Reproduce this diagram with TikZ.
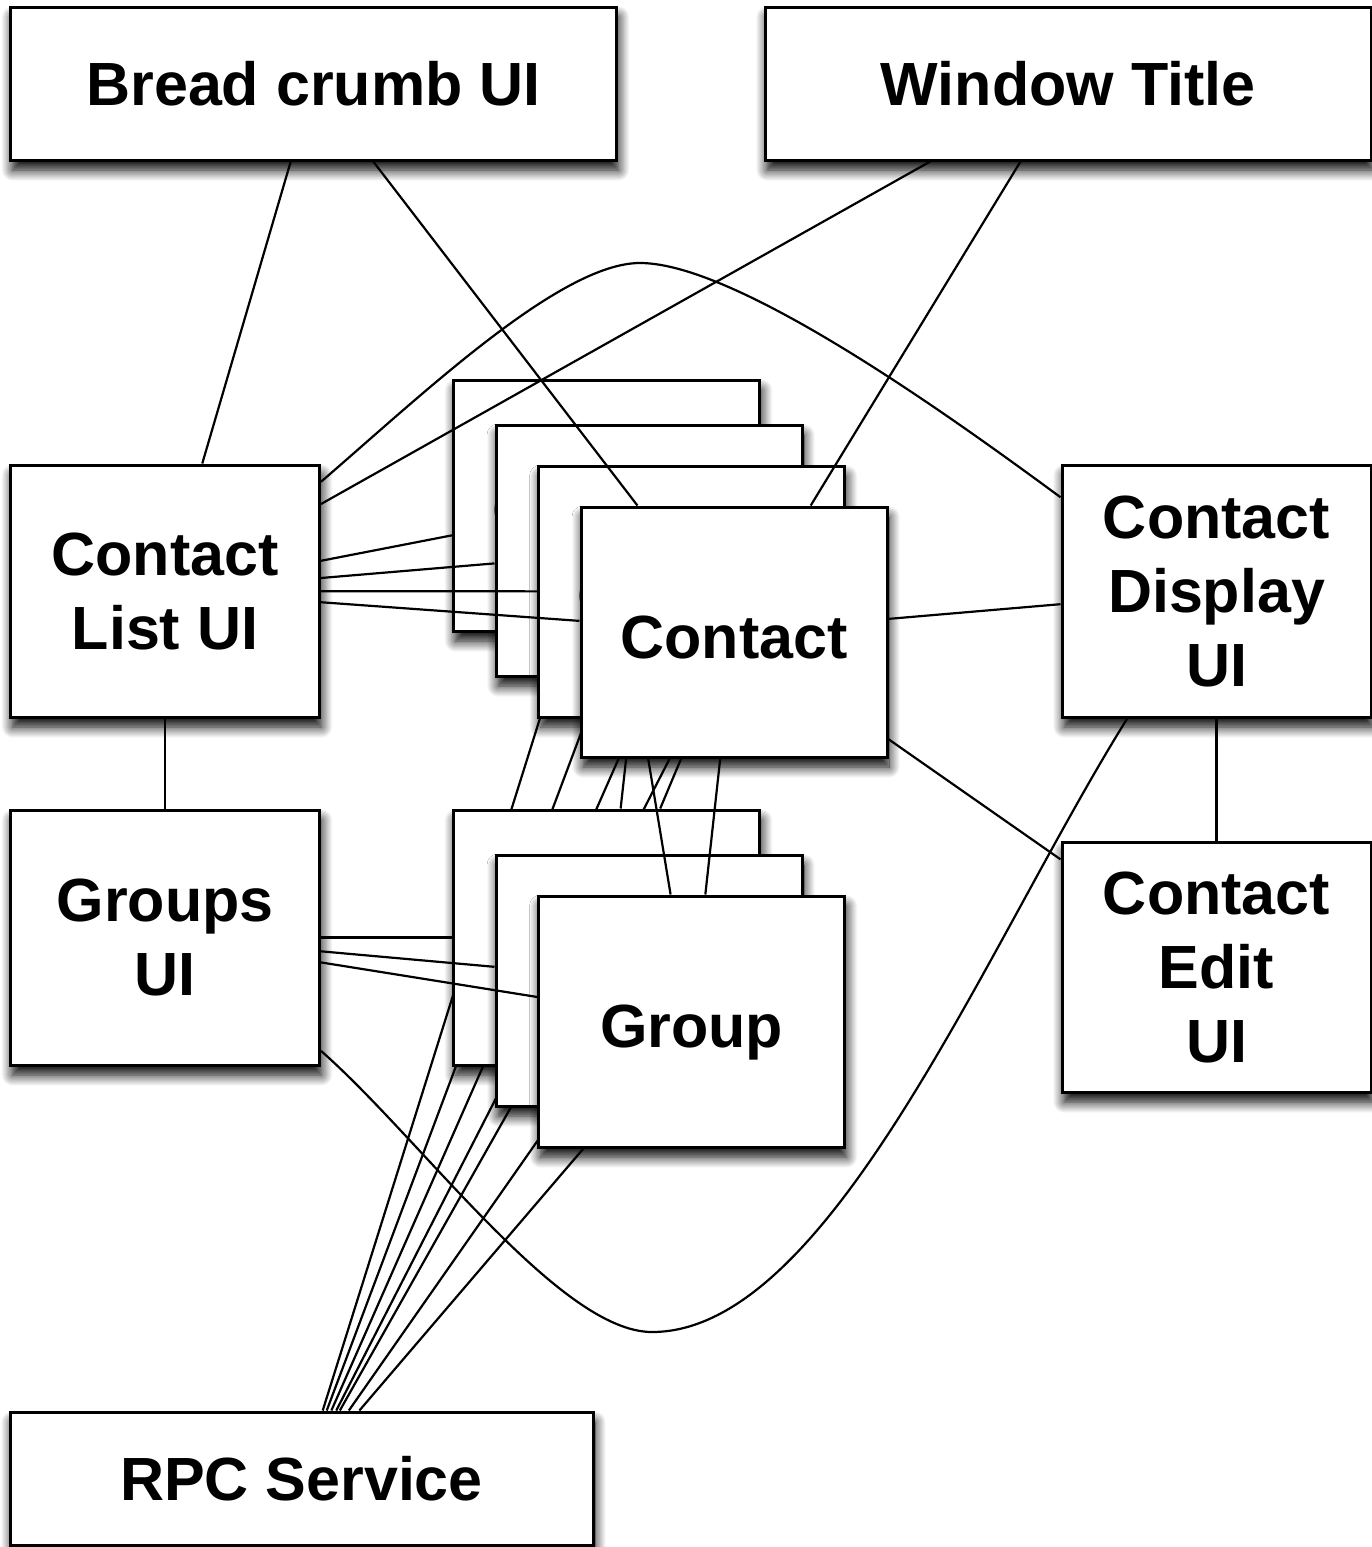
\documentclass[tikz,border=0pt]{standalone}
\usepackage{fontspec}
\setmainfont{Liberation Sans}
\usetikzlibrary{shadows.blur}

\pgfdeclarelayer{wires}
\pgfsetlayers{wires,main}

\tikzset{
  box/.style={draw=black, line width=3pt, fill=white, inner sep=0pt,
    align=center, font=\bfseries\fontsize{61}{74}\selectfont,
    blur shadow={shadow xshift=2pt, shadow yshift=-10pt,
      shadow blur radius=11pt, shadow blur steps=12, shadow opacity=100}},
  wide/.style={box, minimum width=606pt, minimum height=153pt},
  uibox/.style={box, minimum width=309pt, minimum height=252pt},
  card/.style={box, minimum width=306pt, minimum height=251pt,
    text height=52pt, text depth=0pt},
  link/.style={draw=black, line width=2.2pt},
}

\begin{document}
\begin{tikzpicture}[x=1pt, y=-1pt]
\useasboundingbox (0,0) rectangle (1372,1547);

% top row
\node[wide] (bc) at (313.5,83.5) {Bread crumb UI};
\node[wide] (wt) at (1068,83.5) {Window Title};

% left column
\node[uibox] (clui) at (165,591) {Contact\\List UI};
\node[uibox, minimum height=255pt] (gui) at (165,937.5) {Groups\\UI};
\node[box, minimum width=583pt, minimum height=133pt] (rpc) at (301.5,1478.5) {RPC Service};

% right column
\node[uibox] (cdui) at (1216.5,591) {Contact\\Display\\UI};
\node[uibox, minimum height=250pt] (ceui) at (1216.5,967) {Contact\\Edit\\UI};

% stack of groups
\node[card, minimum height=255pt] (g1) at (606.5,937.5) {Group};
\node[card] (g2) at (649,980.5) {Group};
\node[card] (g3) at (691.5,1021.5) {Group};

% stack of contacts (back cards first)
\node[card] (c1) at (606.5,505.5) {Contact};
\node[card] (c2) at (649,550.5) {Contact};
\draw[link] (c1) -- (g3);
\draw[link] (c2) -- (g1);
\node[card] (c3) at (691.5,591.5) {Contact};
\node[card, minimum height=250pt] (c4) at (734,632) {Contact};

% plain links
\draw[link] (bc) -- (clui);
\draw[link] (bc) -- (c4);
\draw[link] (wt) -- (clui);
\draw[link] (wt) -- (c4);
\draw[link] (clui) -- (gui);
\foreach \t in {c1,c2,c3,c4} \draw[link] (clui) -- (\t);
\foreach \t in {g1,g2,g3} \draw[link] (gui) -- (\t);
\draw[link] (c4) -- (g1);
\draw[link] (c4) -- (g3);
\draw[link] (c4) -- (cdui);
\draw[link] (c4) -- (ceui);
\draw[link] (cdui) -- (ceui);

% curved links
\coordinate (arcTop) at (640,263);
\coordinate (arcLow) at (652,1332);
\draw[link] (clui.35.6) .. controls +(100,-86) and +(-80,0) .. (arcTop)
  .. controls +(100,0) and +(-98,-72) .. (cdui.149.3);
\draw[link] (gui.-36.1) .. controls +(100,88) and +(-92,0) .. (arcLow)
  .. controls +(178,0) and +(-142,228) .. (cdui.-125.2);

% service links run beneath every card
\begin{pgfonlayer}{wires}
\foreach \t in {c1,c2,c3,c4,g1,g2,g3} \draw[link] (rpc) -- (\t);
\end{pgfonlayer}
\end{tikzpicture}
\end{document}
